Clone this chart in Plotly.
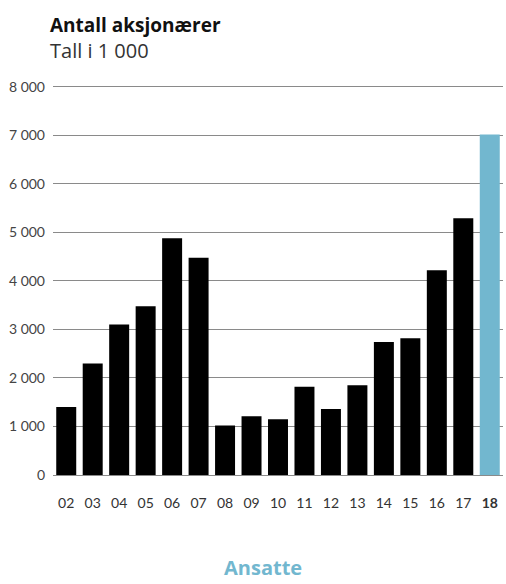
import plotly.graph_objects as go

years = ["02", "03", "04", "05", "06", "07", "08", "09", "10", "11", "12", "13", "14", "15", "16", "17", "18"]
values = [1400, 2300, 3100, 3480, 4880, 4480, 1020, 1210, 1150, 1820, 1360, 1850, 2740, 2820, 4220, 5290, 7020]
x_ticktext = years[:-1] + ["<b>18</b>"]
y_tickvals = [0, 1000, 2000, 3000, 4000, 5000, 6000, 7000, 8000]
y_ticktext = ["0", "1 000", "2 000", "3 000", "4 000", "5 000", "6 000", "7 000", "8 000"]

BLACK = "#000000"
BLUE = "#72b7cf"
colors = [BLACK] * (len(years) - 1) + [BLUE]

fig = go.Figure(go.Bar(x=years, y=values, marker=dict(color=colors, line=dict(width=0)), width=0.755))

W, H = 506, 584
YMAX = 8100
B = 109
zero_px, top_px = 475, 86.5
ph = (zero_px - top_px) * YMAX / 8000
T = H - B - ph
L, R = 52.75, 3
pw = W - L - R

def py(pix):
    return (H - B - pix) / ph

def px(pix):
    return (pix - L) / pw

fig.update_layout(
    width=W, height=H,
    margin=dict(l=L, r=R, t=T, b=B, pad=0),
    paper_bgcolor="white", plot_bgcolor="white",
    font=dict(family="Lato, sans-serif", color="#333333"),
    showlegend=False,
    xaxis=dict(
        type="category", tickvals=years, ticktext=x_ticktext,
        showgrid=False, zeroline=False, showline=False,
        ticks="", ticklabelstandoff=18,
        tickfont=dict(size=14, color="#333333"),
    ),
    yaxis=dict(
        range=[0, YMAX], tickvals=y_tickvals, ticktext=y_ticktext,
        showgrid=True, gridcolor="#8a8a8a", gridwidth=1,
        zeroline=True, zerolinecolor="#8a8a8a", zerolinewidth=1,
        showline=False, ticks="", ticklabelstandoff=7,
        tickfont=dict(size=14, color="#444444"),
    ),
    annotations=[
        dict(text="<b>Antall aksjonærer</b>", xref="paper", yref="paper",
             x=px(48), y=py(25), xanchor="left", yanchor="middle", showarrow=False,
             font=dict(size=19, color="#111111", family="Open Sans, sans-serif")),
        dict(text="Tall i 1 000", xref="paper", yref="paper",
             x=px(48), y=py(50), xanchor="left", yanchor="middle", showarrow=False,
             font=dict(size=20, color="#333333", family="Open Sans, sans-serif")),
        dict(text="<b>Ansatte</b>", xref="paper", yref="paper",
             x=px(263), y=py(568), xanchor="center", yanchor="middle", showarrow=False,
             font=dict(size=20, color=BLUE, family="Open Sans, sans-serif")),
    ],
)

fig.write_html("out.html")
